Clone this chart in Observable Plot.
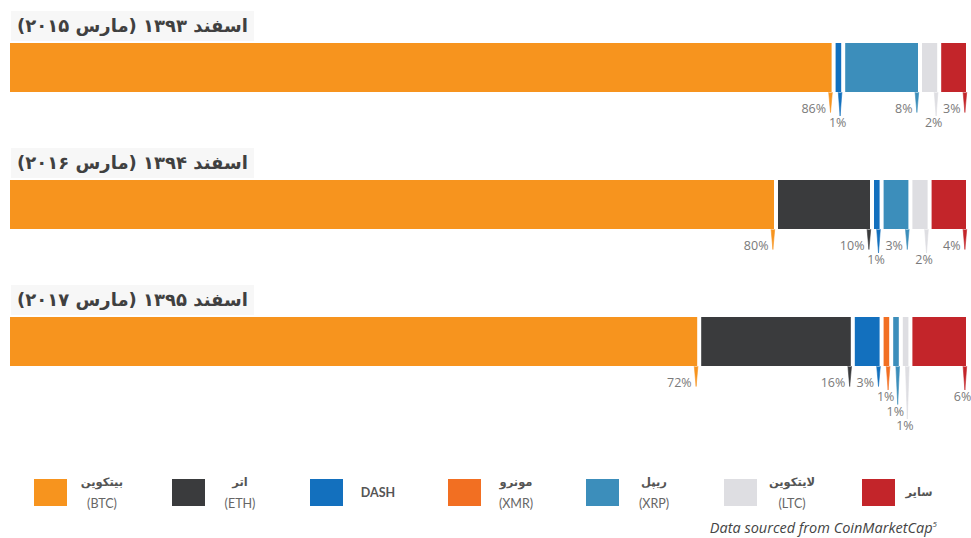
<!DOCTYPE html>
<html>
<head>
<meta charset="utf-8">
<script src="https://cdn.jsdelivr.net/npm/d3@7"></script>
<script src="https://cdn.jsdelivr.net/npm/@observablehq/plot@0.6"></script>
<style>
  body { margin: 0; background: #fff; width: 971px; height: 538px; overflow: hidden; position: relative;
         font-family: Lato, "DejaVu Sans", sans-serif; }
  .title { height: 34px; line-height: 34px; padding-left: 11px; }
  .title span { display: inline-block; direction: rtl; unicode-bidi: embed; font-family: "DejaVu Sans", sans-serif;
                font-weight: bold; font-size: 18px; color: #404040; background: #f7f7f7; padding: 0 6px; line-height: 30px; }
  .chart svg { display: block; }
  .item { position: absolute; top: 479px; display: flex; align-items: center; height: 27px; }
  .sw { width: 33px; height: 27px; }
  .lab { width: 68px; text-align: center; color: #555; margin-left: 1px; }
  .fa { font-family: "DejaVu Sans", sans-serif; font-weight: bold; font-size: 11.5px; line-height: 21px; direction: rtl; }
  .en { font-family: Lato, sans-serif; font-size: 12.5px; line-height: 21px; color: #666; }
  .caption { position: absolute; right: 34px; top: 514px; font-family: "Open Sans", sans-serif; font-style: italic;
             font-size: 14.5px; color: #444; line-height: 20px; }
  .caption sup { font-size: 8px; }
</style>
</head>
<body>
<div id="root"></div>
<div id="legend"></div>
<div class="caption">Data sourced from CoinMarketCap<sup>5</sup></div>
<script>
// ---- data ----
const titles = ["اسفند ۱۳۹۳ (مارس ۲۰۱۵)", "اسفند ۱۳۹۴ (مارس ۲۰۱۶)", "اسفند ۱۳۹۵ (مارس ۲۰۱۷)"];
const coins = ["BTC", "ETH", "DASH", "XMR", "XRP", "LTC", "Other"];
const coinNamesFa = ["بیتکوین", "اتر", "DASH", "مونرو", "ریپل", "لایتکوین", "سایر"];
const coinCodes = ["(BTC)", "(ETH)", "", "(XMR)", "(XRP)", "(LTC)", ""];
const colors = ["#F7941E", "#3A3B3D", "#1370BE", "#F26F22", "#3C8EBB", "#DEDEE2", "#C3252A"];
const share2015 = [86, 0, 1, 0, 8, 2, 3];
const share2016 = [80, 10, 1, 0, 3, 2, 4];
const share2017 = [72, 16, 3, 1, 1, 1, 6];
const shares = [share2015, share2016, share2017];

// ---- layout ----
const BAR = 49;
const rowY = l => 16 + 14.5 * l;           // px below bar bottom for label row
const spikeLen = l => l === 0 ? rowY(0) + 4 : rowY(l) - 7;
const svgHeights = [103, 103, 123];

function segments(vals) {
  let acc = 0, prev = -1;
  const out = [];
  coins.forEach((c, i) => {
    const v = vals[i];
    if (!v) return;
    const level = v <= 2 ? prev + 1 : (prev >= 2 ? 1 : 0);
    out.push({coin: c, v, x1: acc, x2: acc + v, level});
    acc += v;
    prev = level;
  });
  return out;
}

const root = document.getElementById("root");
shares.forEach((vals, k) => {
  const t = document.createElement("div");
  t.className = "title";
  if (k === 0) t.style.marginTop = "9px";
  const s = document.createElement("span");
  s.textContent = titles[k];
  t.appendChild(s);
  root.appendChild(t);

  const rows = segments(vals);
  const levels = [0, 1, 2, 3];
  const chart = Plot.plot({
    width: 971,
    height: svgHeights[k],
    marginTop: 0, marginBottom: 0, marginLeft: 0, marginRight: 0,
    x: {domain: [0, 100], range: [8, 968], axis: null},
    y: {domain: [0, 1], range: [0, BAR], axis: null},
    color: {domain: coins, range: colors},
    style: {fontFamily: "'Open Sans', sans-serif", overflow: "visible"},
    marks: [
      Plot.rect(rows, {x1: "x1", x2: "x2", y1: 0, y2: 1, fill: "coin", insetLeft: 2, insetRight: 2}),
      ...levels.map(l => Plot.vector(rows.filter(d => d.level === l), {
        x: "x2", y: 1, dx: -3.6, length: spikeLen(l), rotate: 180, anchor: "start",
        shape: "spike", r: 1.8, stroke: "coin", fill: "coin", strokeWidth: 0.6
      })),
      Plot.text(rows.filter(d => d.level === 0), {
        x: "x2", y: d => 1 + rowY(d.level) / BAR, text: d => d.v + "%",
        textAnchor: "end", dx: -8, fontSize: 12.5, fill: "#7a7a7a"
      }),
      Plot.text(rows.filter(d => d.level > 0), {
        x: "x2", y: d => 1 + rowY(d.level) / BAR, text: d => d.v + "%",
        textAnchor: "middle", dx: -6, fontSize: 12.5, fill: "#7a7a7a"
      })
    ]
  });
  const wrap = document.createElement("div");
  wrap.className = "chart";
  wrap.appendChild(chart);
  root.appendChild(wrap);
});

// ---- legend ----
const legend = document.getElementById("legend");
coins.forEach((c, i) => {
  const item = document.createElement("div");
  item.className = "item";
  item.style.left = (34 + i * 138) + "px";
  const sw = document.createElement("div");
  sw.className = "sw";
  sw.style.background = colors[i];
  const lab = document.createElement("div");
  lab.className = "lab";
  if (i === 6) lab.style.width = "46px";
  if (coinCodes[i]) {
    lab.innerHTML = `<div class="fa">${coinNamesFa[i]}</div><div class="en">${coinCodes[i]}</div>`;
  } else if (/[A-Z]/.test(coinNamesFa[i])) {
    lab.innerHTML = `<div class="en" style="font-weight:bold;color:#555">${coinNamesFa[i]}</div>`;
  } else {
    lab.innerHTML = `<div class="fa">${coinNamesFa[i]}</div>`;
  }
  item.appendChild(sw);
  item.appendChild(lab);
  legend.appendChild(item);
});
</script>
</body>
</html>
